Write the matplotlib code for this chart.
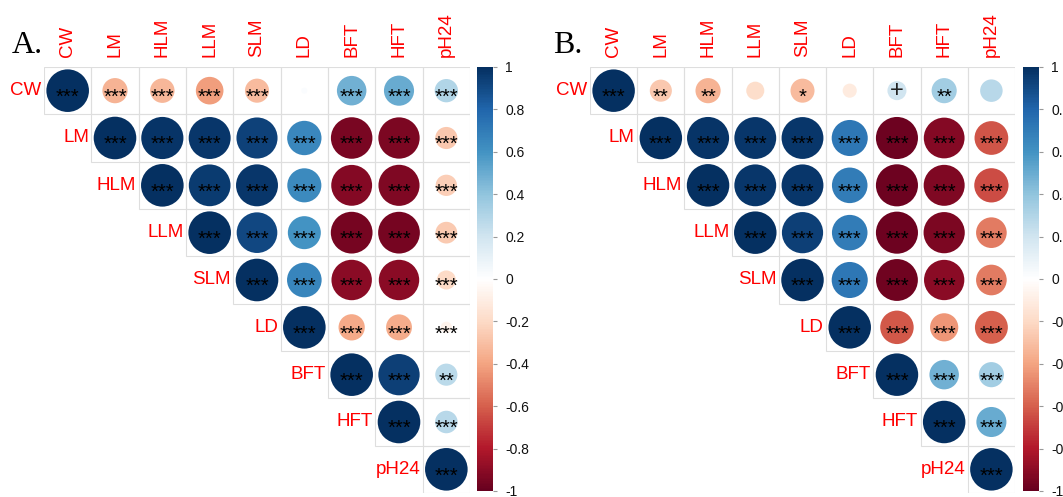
import numpy as np
import matplotlib
matplotlib.use("Agg")
import matplotlib.pyplot as plt
from matplotlib.colors import LinearSegmentedColormap, Normalize
from matplotlib.cm import ScalarMappable
from matplotlib.patches import Rectangle

W, H = 1063, 497

TRAITS = ["CW", "LM", "HLM", "LLM", "SLM", "LD", "BFT", "HFT", "pH24"]

# upper triangle, each row starts at the diagonal
CORR_A = [
    [1, -0.35, -0.33, -0.42, -0.32, 0.02, 0.48, 0.50, 0.30],
    [1, 0.98, 0.97, 0.93, 0.65, -0.95, -0.94, -0.27],
    [1, 0.96, 0.97, 0.64, -0.92, -0.93, -0.25],
    [1, 0.91, 0.60, -0.96, -0.96, -0.26],
    [1, 0.66, -0.90, -0.90, -0.20],
    [1, -0.38, -0.37, -0.07],
    [1, 0.94, 0.27],
    [1, 0.28],
    [1],
]
STARS_A = [
    ["***", "***", "***", "***", "***", "", "***", "***", "***"],
    ["***"] * 8,
    ["***"] * 7,
    ["***"] * 6,
    ["***"] * 5,
    ["***"] * 4,
    ["***", "***", "**"],
    ["***"] * 2,
    ["***"],
]

CORR_B = [
    [1, -0.27, -0.35, -0.18, -0.32, -0.11, 0.20, 0.35, 0.28],
    [1, 0.98, 0.97, 0.97, 0.72, -0.98, -0.92, -0.63],
    [1, 0.97, 0.97, 0.70, -0.98, -0.93, -0.65],
    [1, 0.94, 0.70, -0.98, -0.94, -0.52],
    [1, 0.72, -0.97, -0.90, -0.52],
    [1, -0.62, -0.44, -0.60],
    [1, 0.48, 0.35],
    [1, 0.50],
    [1],
]
STARS_B = [
    ["***", "**", "**", "", "*", "", "+", "**", ""],
    ["***"] * 8,
    ["***"] * 7,
    ["***"] * 6,
    ["***"] * 5,
    ["***"] * 4,
    ["***"] * 3,
    ["***"] * 2,
    ["***"],
]

CB_TICKS = [-1, -0.8, -0.6, -0.4, -0.2, 0, 0.2, 0.4, 0.6, 0.8, 1]
CB_LABELS = ["-1", "-0.8", "-0.6", "-0.4", "-0.2", "0", "0.2", "0.4", "0.6", "0.8", "1"]

# corrplot RdBu palette
CMAP = LinearSegmentedColormap.from_list("corr_rdbu", [
    "#67001F", "#B2182B", "#D6604D", "#F4A582", "#FDDBC7", "#FFFFFF",
    "#D1E5F0", "#92C5DE", "#4393C3", "#2166AC", "#053061"])
NORM = Normalize(-1, 1)

SANS = ["Liberation Sans", "DejaVu Sans"]


def px_rect(x0, y0, x1, y1):
    return [x0 / W, 1 - y1 / H, (x1 - x0) / W, (y1 - y0) / H]


def draw_panel(fig, grid_px, cbar_px, corr, stars, letter, letter_xy):
    ax = fig.add_axes(px_rect(*grid_px))
    n = len(TRAITS)
    cell_px = (grid_px[2] - grid_px[0]) / n
    ax.set_xlim(0, n)
    ax.set_ylim(n, 0)
    ax.axis("off")

    xs, ys, vals, sizes = [], [], [], []
    for i, row in enumerate(corr):
        for k, r in enumerate(row):
            j = i + k
            ax.add_patch(Rectangle((j, i), 1, 1, fill=False, ec="#dedede", lw=0.8, zorder=1))
            xs.append(j + 0.5)
            ys.append(i + 0.5)
            vals.append(r)
            d_pt = 0.9 * np.sqrt(abs(r)) * cell_px * 72 / 100
            sizes.append(d_pt ** 2)
    ax.scatter(xs, ys, s=sizes, c=vals, cmap=CMAP, norm=NORM, edgecolors="none", zorder=2)

    for i, row in enumerate(stars):
        for k, st in enumerate(row):
            j = i + k
            if st == "+":
                ax.text(j + 0.5, i + 0.5, "+", ha="center", va="center", fontsize=17,
                        family=SANS, fontweight="light", color="#222222", zorder=3)
            elif st:
                ax.text(j + 0.5, i + 0.64, st, ha="center", va="center", fontsize=14.5,
                        family=SANS, color="black", zorder=3)

    for i, name in enumerate(TRAITS):
        ax.text(i - 0.05, i + 0.5, name, ha="right", va="center", fontsize=13.5,
                family=SANS, color="#FF0000")
        ax.text(i + 0.5, -0.21, name, ha="center", va="bottom", rotation=90,
                fontsize=13.5, family=SANS, color="#FF0000")

    fig.text(letter_xy[0] / W, 1 - letter_xy[1] / H, letter, ha="left", va="baseline",
             fontsize=23, family=["Liberation Serif", "DejaVu Serif"])

    cax = fig.add_axes(px_rect(*cbar_px))
    cb = fig.colorbar(ScalarMappable(norm=NORM, cmap=CMAP), cax=cax, ticks=CB_TICKS)
    cb.outline.set_visible(False)
    cb.ax.set_yticklabels(CB_LABELS)
    cb.ax.tick_params(length=3, width=0.8, color="#999999", pad=6, labelsize=10)
    for t in cb.ax.get_yticklabels():
        t.set_family(SANS)
        t.set_color("#111111")


fig = plt.figure(figsize=(W / 100, H / 100), dpi=100)
draw_panel(fig, (44, 67, 470, 493), (477, 67, 493, 491), CORR_A, STARS_A, "A.", (12, 53))
draw_panel(fig, (590, 67, 1015, 493), (1023, 67, 1039, 491), CORR_B, STARS_B, "B.", (553, 53))
fig.savefig("out.png", dpi=100)
